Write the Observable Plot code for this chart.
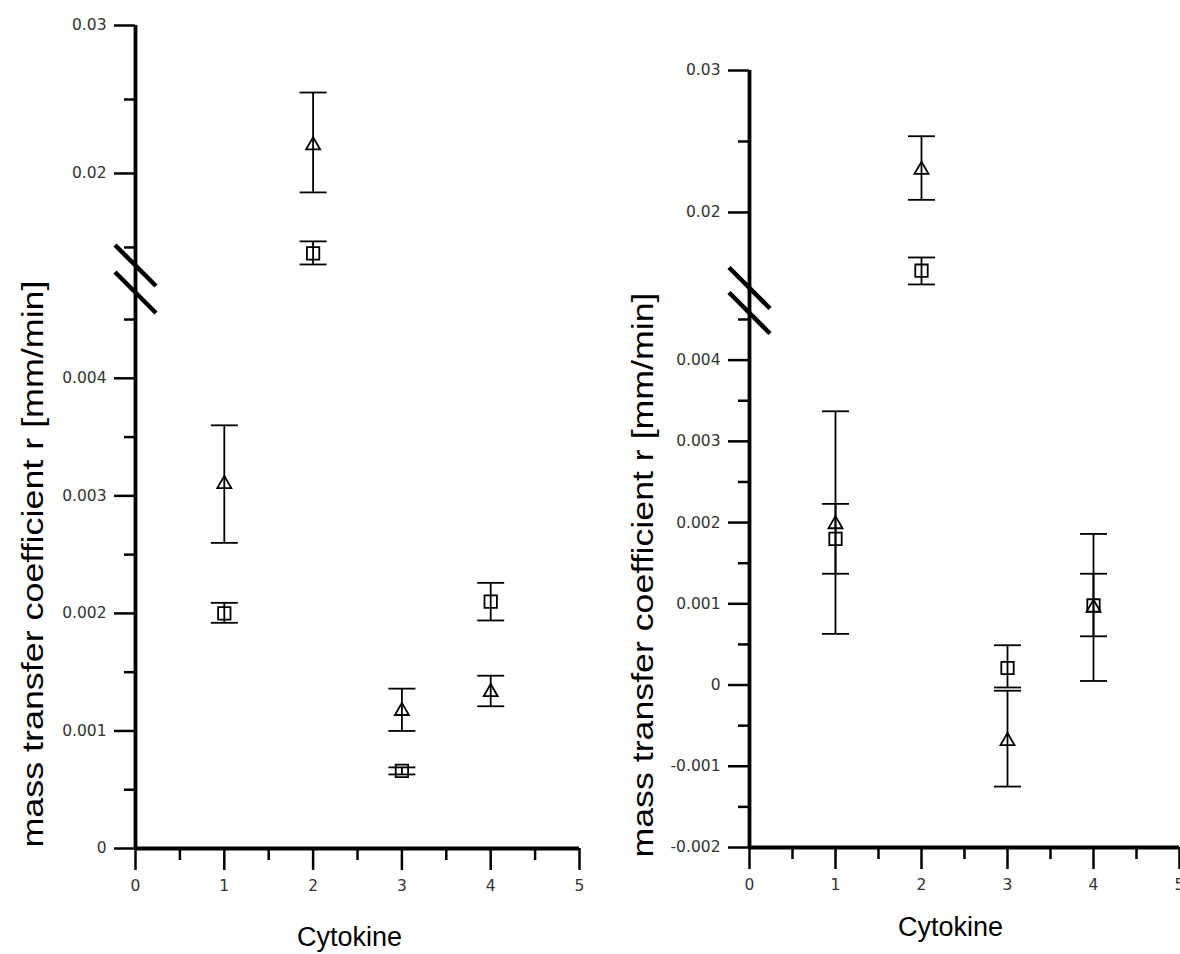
<!DOCTYPE html>
<html>
<head>
<meta charset="utf-8">
<script src="https://cdn.jsdelivr.net/npm/d3@7"></script>
<script src="https://cdn.jsdelivr.net/npm/@observablehq/plot@0.6"></script>
<style>
  html, body { margin: 0; padding: 0; background: #fff; }
  #wrap { display: flex; width: 1180px; height: 954px; overflow: hidden; }
  #wrap svg { display: block; overflow: visible; }
</style>
</head>
<body>
<div id="wrap"></div>
<script>
// Cytokine index on the x axis
const cytokines = [1, 2, 3, 4];

// Left panel: triangles and squares with error bar limits
const triA   = [0.0031, 0.0219, 0.00117, 0.00133];
const triALo = [0.0026, 0.01872, 0.0010, 0.00121];
const triAHi = [0.0036, 0.02547, 0.00136, 0.00147];
const sqA    = [0.0020, 0.0146, 0.00066, 0.0021];
const sqALo  = [0.00192, 0.01385, 0.00063, 0.00194];
const sqAHi  = [0.00209, 0.01541, 0.00069, 0.00226];

// Right panel
const triB   = [0.00198, 0.0230, -0.00069, 0.00095];
const triBLo = [0.00063, 0.02089, -0.00125, 0.00005];
const triBHi = [0.00337, 0.02537, -0.00007, 0.00186];
const sqB    = [0.0018, 0.0159, 0.00021, 0.00098];
const sqBLo  = [0.00137, 0.01493, -0.00003, 0.0006];
const sqBHi  = [0.00223, 0.01683, 0.00049, 0.00137];

// Tick values
const xTicks  = [0, 1, 2, 3, 4, 5];
const xMinor  = [0.5, 1.5, 2.5, 3.5, 4.5];
const yTicksA = [0, 0.001, 0.002, 0.003, 0.004, 0.02, 0.03];
const yMinorA = [0.0005, 0.0015, 0.0025, 0.0035, 0.0045, 0.015, 0.025];
const yTicksB = [-0.002, -0.001, 0, 0.001, 0.002, 0.003, 0.004, 0.02, 0.03];
const yMinorB = [-0.0015, -0.0005, 0.0005, 0.0015, 0.0025, 0.0035, 0.0045, 0.025];

// Broken y axis: [bottom, top of lower segment, bottom of upper segment, top]
const yBreakA = [0, 0.00473, 0.01378, 0.03];
const yBreakB = [-0.002, 0.00458, 0.01468, 0.03];

const yTitle = "mass transfer coefficient r [mm/min]";
const xTitle = "Cytokine";

// horizontal error-bar cap
const capSymbol = {
  draw(ctx, size) {
    const a = Math.sqrt(size / Math.PI);
    ctx.moveTo(-a, 0); ctx.lineTo(a, 0);
  }
};
// diagonal stroke marking the axis break
const slashSymbol = {
  draw(ctx, size) {
    const a = Math.sqrt(size / Math.PI) / Math.SQRT2;
    ctx.moveTo(-a, -a); ctx.lineTo(a, a);
  }
};

const rows = (v, lo, hi) => cytokines.map((c, i) => ({c, v: v[i], lo: lo[i], hi: hi[i]}));
const FONT = "DejaVu Sans, sans-serif";
const TITLE_FONT = "Liberation Sans, Arial, sans-serif";

function panel(cfg) {
  const tris = rows(cfg.tri, cfg.triLo, cfg.triHi);
  const sqs = rows(cfg.sq, cfg.sqLo, cfg.sqHi);
  const bars = tris.concat(sqs);
  const yMin = cfg.yDomain[0], yMax = cfg.yDomain[cfg.yDomain.length - 1];
  // piecewise mapping that squeezes the gap between the two axis segments
  const broken = d3.scaleLinear().domain(cfg.yDomain).range(cfg.yRange);
  const tickColor = "#333";
  const svg = Plot.plot({
    width: 590,
    height: 954,
    marginLeft: cfg.margin[0],
    marginRight: cfg.margin[1],
    marginTop: cfg.margin[2],
    marginBottom: cfg.margin[3],
    style: {fontFamily: FONT, color: "#000", background: "transparent"},
    x: {domain: [0, 5], label: null},
    y: {transform: broken, domain: [cfg.yRange[0], cfg.yRange[3]], range: [cfg.yRange[0], cfg.yRange[3]], label: null},
    marks: [
      // y axis ticks and labels
      Plot.axisY(cfg.yMinor, {tickSize: 11, tickFormat: () => "", strokeWidth: 2.5, label: null}),
      Plot.axisY(cfg.yTicks, {tickSize: 21, tickFormat: () => "", strokeWidth: 2.5, label: null}),
      Plot.axisY(cfg.yTicks, {tickSize: 0, tickPadding: 29, tickFormat: d => String(d), color: tickColor,
        fontSize: 15.5, fontFamily: FONT, label: null}),
      // x axis ticks and labels
      Plot.axisX(xMinor, {tickSize: 12, tickFormat: () => "", strokeWidth: 2.5, label: null}),
      Plot.axisX(xTicks, {tickSize: 22, tickFormat: () => "", strokeWidth: 2.5, label: null}),
      Plot.axisX(xTicks, {tickSize: 0, tickPadding: 31, tickFormat: d => String(d), color: tickColor,
        fontSize: 15.5, fontFamily: FONT, label: null}),
      // axis lines
      Plot.ruleX([0], {y1: yMin, y2: yMax, strokeWidth: 3.8}),
      Plot.ruleY([yMin], {x1: 0, x2: 5, strokeWidth: 3.8}),
      // error bars
      Plot.ruleX(bars, {x: "c", y1: "lo", y2: "hi", stroke: "black", strokeWidth: 1.8}),
      Plot.dot(bars, {x: "c", y: "lo", symbol: capSymbol, r: 13.5, fill: "none", stroke: "black", strokeWidth: 1.8}),
      Plot.dot(bars, {x: "c", y: "hi", symbol: capSymbol, r: 13.5, fill: "none", stroke: "black", strokeWidth: 1.8}),
      // markers
      Plot.dot(sqs, {x: "c", y: "v", symbol: "square", r: 7, fill: "none", stroke: "black", strokeWidth: 1.8}),
      Plot.dot(tris, {x: "c", y: "v", symbol: "triangle", r: 5.2, fill: "none", stroke: "black", strokeWidth: 1.8}),
      // break marks on the y axis
      Plot.dot([cfg.yDomain[1], cfg.yDomain[2]], {x: 0, y: d => d, symbol: slashSymbol, r: 29, fill: "none", stroke: "black", strokeWidth: 4.5}),
      // axis titles
      Plot.text([yTitle], {text: d => d, frameAnchor: "left", textAnchor: "middle", lineAnchor: "middle", rotate: -90,
        dx: cfg.yTitleOffset[0], dy: cfg.yTitleOffset[1], fontSize: 29, fontFamily: TITLE_FONT, fill: "black"}),
      Plot.text([xTitle], {text: d => d, frameAnchor: "bottom", textAnchor: "middle", lineAnchor: "middle",
        dx: cfg.xTitleOffset[0], dy: cfg.xTitleOffset[1], fontSize: 27, fontFamily: TITLE_FONT, fill: "black"})
    ]
  });
  // the rotated title runs a little long in this figure
  d3.select(svg).selectAll("text")
    .filter(function () { return this.textContent === yTitle; })
    .attr("textLength", cfg.yTitleLength)
    .attr("lengthAdjust", "spacingAndGlyphs");
  return svg;
}

const wrap = document.getElementById("wrap");
wrap.append(panel({
  tri: triA, triLo: triALo, triHi: triAHi, sq: sqA, sqLo: sqALo, sqHi: sqAHi,
  yDomain: yBreakA, yRange: [848, 292, 265, 25],
  yTicks: yTicksA, yMinor: yMinorA,
  margin: [135, 11, 25, 106],
  yTitleOffset: [-101.5, 127], yTitleLength: 567,
  xTitleOffset: [-8, 89]
}));
wrap.append(panel({
  tri: triB, triLo: triBLo, triHi: triBHi, sq: sqB, sqLo: sqBLo, sqHi: sqBHi,
  yDomain: yBreakB, yRange: [847, 312.5, 287.5, 70],
  yTicks: yTicksB, yMinor: yMinorB,
  margin: [159, 1, 70, 107],
  yTitleOffset: [-106, 116], yTitleLength: 565,
  xTitleOffset: [-14, 80]
}));
</script>
</body>
</html>
